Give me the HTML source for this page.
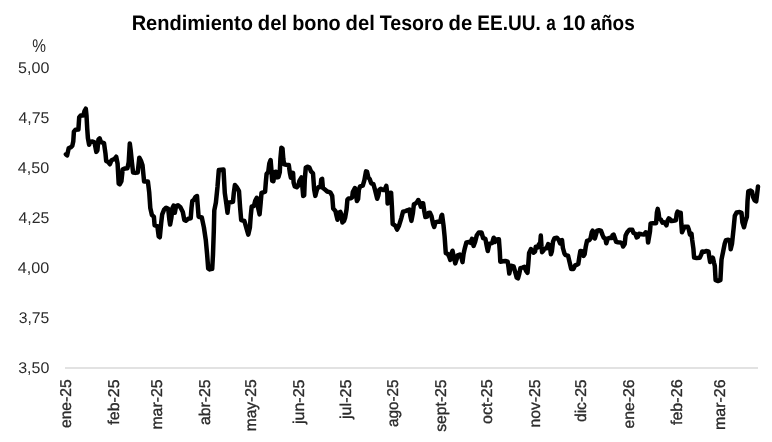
<!DOCTYPE html>
<html lang="es">
<head>
<meta charset="utf-8">
<title>Rendimiento del bono del Tesoro de EE.UU. a 10 años</title>
<style>
html,body{margin:0;padding:0;background:#fff;}
body{width:772px;height:442px;overflow:hidden;}
svg{display:block;text-rendering:geometricPrecision;will-change:transform;}
text{font-family:"Liberation Sans", sans-serif;fill:#2b2b2b;}
.t{font-weight:bold;font-size:21.0px;fill:#000;}
.y{font-size:15.5px;}
.x{font-size:15.6px;stroke:#2b2b2b;stroke-width:0.35px;}
</style>
</head>
<body>
<svg width="772" height="442" viewBox="0 0 772 442">
<rect x="0" y="0" width="772" height="442" fill="#ffffff"/>
<text class="t" y="29.5"><tspan x="131.66" textLength="121.31" lengthAdjust="spacingAndGlyphs">Rendimiento</tspan> <tspan x="257.84" textLength="29.22" lengthAdjust="spacingAndGlyphs">del</tspan> <tspan x="292.15" textLength="48.53" lengthAdjust="spacingAndGlyphs">bono</tspan> <tspan x="345.55" textLength="29.22" lengthAdjust="spacingAndGlyphs">del</tspan> <tspan x="379.79" textLength="63.91" lengthAdjust="spacingAndGlyphs">Tesoro</tspan> <tspan x="448.60" textLength="23.62" lengthAdjust="spacingAndGlyphs">de</tspan> <tspan x="477.34" textLength="63.50" lengthAdjust="spacingAndGlyphs">EE.UU.</tspan> <tspan x="546.26" textLength="9.56" lengthAdjust="spacingAndGlyphs">a</tspan> <tspan x="562.41" textLength="23.06" lengthAdjust="spacingAndGlyphs">10</tspan> <tspan x="590.43" textLength="44.35" lengthAdjust="spacingAndGlyphs">años</tspan></text>
<text class="y" style="font-size:18.4px" x="32.35" y="52" textLength="13.70" lengthAdjust="spacingAndGlyphs">%</text>
<text class="y" x="18.11" y="72.8" textLength="31.22" lengthAdjust="spacingAndGlyphs">5,00</text>
<text class="y" x="18.47" y="122.8" textLength="30.89" lengthAdjust="spacingAndGlyphs">4,75</text>
<text class="y" x="17.88" y="172.8" textLength="31.45" lengthAdjust="spacingAndGlyphs">4,50</text>
<text class="y" x="18.47" y="222.8" textLength="30.89" lengthAdjust="spacingAndGlyphs">4,25</text>
<text class="y" x="17.88" y="272.8" textLength="31.45" lengthAdjust="spacingAndGlyphs">4,00</text>
<text class="y" x="18.76" y="322.8" textLength="30.61" lengthAdjust="spacingAndGlyphs">3,75</text>
<text class="y" x="18.16" y="372.8" textLength="31.17" lengthAdjust="spacingAndGlyphs">3,50</text>
<line x1="65" y1="368" x2="758" y2="368" stroke="#d9d9d9" stroke-width="1.7"/>
<text class="x" transform="translate(71.4,427.31) rotate(-90)" x="-0.66" y="0" textLength="48.52" lengthAdjust="spacingAndGlyphs">ene-25</text>
<text class="x" transform="translate(119.2,424.43) rotate(-90)" x="-0.23" y="0" textLength="45.22" lengthAdjust="spacingAndGlyphs">feb-25</text>
<text class="x" transform="translate(162.4,428.53) rotate(-90)" x="-1.05" y="0" textLength="50.14" lengthAdjust="spacingAndGlyphs">mar-25</text>
<text class="x" transform="translate(210.2,424.35) rotate(-90)" x="-0.67" y="0" textLength="45.58" lengthAdjust="spacingAndGlyphs">abr-25</text>
<text class="x" transform="translate(256.4,430.31) rotate(-90)" x="-1.03" y="0" textLength="51.90" lengthAdjust="spacingAndGlyphs">may-25</text>
<text class="x" transform="translate(304.2,424.44) rotate(-90)" x="0.39" y="0" textLength="44.62" lengthAdjust="spacingAndGlyphs">jun-25</text>
<text class="x" transform="translate(350.5,419.35) rotate(-90)" x="0.39" y="0" textLength="39.53" lengthAdjust="spacingAndGlyphs">jul-25</text>
<text class="x" transform="translate(398.3,426.48) rotate(-90)" x="-0.65" y="0" textLength="47.68" lengthAdjust="spacingAndGlyphs">ago-25</text>
<text class="x" transform="translate(446.1,431.28) rotate(-90)" x="-0.44" y="0" textLength="52.27" lengthAdjust="spacingAndGlyphs">sept-25</text>
<text class="x" transform="translate(492.4,423.26) rotate(-90)" x="-0.67" y="0" textLength="44.50" lengthAdjust="spacingAndGlyphs">oct-25</text>
<text class="x" transform="translate(540.2,426.48) rotate(-90)" x="-1.04" y="0" textLength="48.09" lengthAdjust="spacingAndGlyphs">nov-25</text>
<text class="x" transform="translate(586.4,421.42) rotate(-90)" x="-0.66" y="0" textLength="42.63" lengthAdjust="spacingAndGlyphs">dic-25</text>
<text class="x" transform="translate(634.2,427.73) rotate(-90)" x="-0.67" y="0" textLength="48.99" lengthAdjust="spacingAndGlyphs">ene-26</text>
<text class="x" transform="translate(682.0,424.85) rotate(-90)" x="-0.23" y="0" textLength="45.68" lengthAdjust="spacingAndGlyphs">feb-26</text>
<text class="x" transform="translate(725.2,428.95) rotate(-90)" x="-1.06" y="0" textLength="50.61" lengthAdjust="spacingAndGlyphs">mar-26</text>
<polyline fill="none" stroke="#000" stroke-width="4.5" stroke-linejoin="round" stroke-linecap="round" points="65.9,154.3 67.1,155.4 68.7,148.3 70.8,147.2 72.3,145.9 73.3,141.2 73.9,131.7 75.5,129.8 78.4,129.5 79.2,117.4 80.6,115.5 83.3,115.5 84.5,111.1 85.8,108.7 86.5,115.4 87.2,128.5 87.9,138.0 89.1,144.7 90.4,142.0 92.5,141.5 94.5,142.4 96.3,151.9 97.4,150.4 98.5,139.3 99.6,138.3 101.0,142.1 104.0,143.1 105.5,153.8 106.2,161.0 108.3,162.1 109.9,164.3 111.5,160.2 114.6,158.9 116.2,156.7 117.6,163.8 118.7,183.6 119.8,184.3 121.4,181.2 122.7,169.3 125.0,168.5 127.4,168.2 128.7,162.2 129.8,143.5 130.6,149.5 131.9,162.2 133.1,172.5 135.3,172.9 137.7,172.5 138.5,165.3 139.3,157.7 140.9,160.6 142.5,165.3 143.6,176.4 144.1,181.5 147.9,181.4 149.2,192.2 150.3,208.0 151.9,215.1 153.9,216.7 154.6,225.4 157.4,226.2 158.7,236.5 159.8,237.3 161.1,223.8 162.2,214.3 164.1,209.6 166.1,207.7 168.2,208.8 169.3,219.1 170.1,224.6 171.4,217.5 172.5,208.0 173.6,205.6 174.8,212.8 176.1,206.1 178.0,205.2 180.4,207.2 182.8,212.0 184.3,219.9 185.9,220.7 188.3,218.8 190.7,218.3 191.5,208.0 192.3,200.9 193.8,200.1 195.4,196.9 197.0,196.1 197.8,206.4 198.6,216.7 201.8,217.5 203.9,227.4 205.8,240.1 207.1,254.3 208.2,268.6 209.8,269.4 212.2,268.9 213.0,254.3 213.8,230.6 214.3,210.4 215.9,202.5 217.5,186.7 218.8,170.1 223.5,169.6 224.1,180.3 224.8,193.0 226.4,204.1 227.5,212.8 228.6,202.5 230.6,202.2 233.0,201.7 233.8,193.0 234.9,185.1 237.0,187.5 239.0,191.1 240.1,207.3 241.2,220.1 244.4,221.0 246.2,227.4 248.3,234.6 249.9,227.4 250.8,215.2 251.7,206.5 253.9,206.0 255.2,200.9 256.8,197.8 258.0,207.3 259.6,214.4 260.7,202.5 261.5,193.0 263.9,192.2 265.1,191.7 265.8,182.5 266.6,173.8 268.2,172.2 269.3,163.5 270.6,160.0 271.4,169.8 272.2,180.9 273.4,181.2 274.6,172.2 276.1,171.7 277.2,177.4 278.5,177.0 279.8,172.2 280.4,158.8 281.4,147.7 282.5,148.5 283.3,158.8 284.1,164.3 286.4,164.8 288.8,165.1 289.9,173.0 290.9,177.8 291.8,172.7 293.1,173.0 293.6,182.5 294.8,186.5 296.7,187.3 298.3,185.7 299.4,180.9 301.5,177.4 302.3,185.7 303.2,196.0 304.2,195.2 304.8,179.3 305.8,167.5 307.8,166.7 309.4,167.5 311.0,171.4 313.0,173.3 314.2,189.6 315.3,195.9 316.9,189.6 318.5,187.2 320.5,186.7 321.3,179.3 322.1,178.8 322.9,188.0 324.8,189.3 327.2,191.5 330.3,192.4 332.2,195.9 333.2,208.6 335.4,211.0 336.7,216.5 337.5,219.7 338.3,213.0 340.3,211.9 341.4,214.6 342.4,222.5 344.0,220.9 345.1,217.8 346.6,209.1 347.4,199.6 348.6,198.5 350.9,198.3 352.2,197.2 352.8,192.0 354.9,188.0 356.0,194.3 356.9,201.0 358.1,199.1 358.9,189.6 360.1,186.4 362.8,185.6 364.4,180.1 366.0,171.4 367.1,171.9 368.4,177.7 369.6,178.8 371.2,183.3 373.4,184.1 375.1,190.1 377.2,198.8 378.3,195.6 379.4,189.8 380.7,188.8 383.1,190.1 384.6,189.8 386.3,185.8 387.3,194.0 387.6,203.5 388.7,201.9 389.5,193.2 391.1,192.7 391.9,206.7 392.7,224.1 395.1,225.4 397.1,229.6 399.0,225.7 401.4,217.8 403.0,211.7 405.3,211.1 407.7,210.2 409.3,209.5 410.4,216.2 411.4,220.9 412.9,213.0 413.9,204.3 415.6,203.5 417.2,201.9 418.3,200.0 419.6,202.7 420.9,206.7 422.0,203.5 423.1,203.2 424.3,211.4 425.4,217.0 427.2,216.5 428.3,213.0 429.9,212.7 431.5,216.2 433.1,224.1 434.2,226.9 435.4,222.5 437.8,221.7 440.2,221.7 441.4,215.9 442.1,214.9 443.5,225.3 444.6,236.4 445.8,253.1 447.7,253.8 449.3,257.0 450.3,259.9 451.4,253.8 452.5,250.7 453.8,257.0 455.3,263.4 456.6,259.4 457.7,255.4 459.8,254.6 461.4,257.3 462.5,262.1 463.6,253.8 464.8,248.3 466.4,242.4 468.8,242.0 470.4,242.8 472.0,238.8 473.6,245.9 475.1,242.0 476.7,235.6 478.8,232.5 481.5,232.5 483.1,238.0 485.4,238.8 486.7,245.9 487.8,251.0 489.4,243.6 492.1,243.1 493.7,237.7 494.9,242.0 496.5,239.6 498.9,239.3 499.8,251.4 500.3,261.7 503.0,261.2 505.3,260.9 507.7,261.7 508.5,267.3 509.3,273.6 510.9,265.7 513.6,266.5 515.2,272.0 516.7,277.6 518.0,278.4 519.3,273.6 520.4,268.1 522.4,267.6 524.3,266.9 526.2,271.2 527.5,272.8 528.3,264.1 529.1,253.0 531.0,249.1 532.3,250.6 533.5,252.7 535.1,251.4 535.8,246.7 537.8,247.5 538.9,244.3 540.2,243.2 540.8,235.6 541.5,246.7 542.1,252.2 543.4,250.6 544.6,248.6 546.5,248.3 548.2,244.1 549.8,245.6 550.9,254.3 551.9,251.2 553.0,241.7 554.5,238.2 556.9,237.7 558.8,240.1 560.1,243.3 560.9,240.4 562.0,240.1 562.9,248.0 564.5,253.6 565.6,255.1 568.0,255.6 569.6,262.3 571.2,268.9 573.5,268.9 575.1,265.4 577.2,264.6 578.3,263.9 579.4,256.7 580.4,250.9 582.0,251.2 583.5,255.9 584.6,254.3 585.8,246.4 587.0,240.9 589.4,240.1 590.5,238.5 591.8,232.2 592.7,230.6 593.7,236.1 594.9,238.5 596.2,233.8 597.1,230.6 599.0,230.2 600.9,230.6 602.5,234.9 603.8,237.8 605.3,238.6 606.3,243.3 607.7,238.6 609.8,237.8 611.7,238.1 612.5,235.4 613.6,234.6 614.8,238.1 616.1,241.7 618.0,242.2 620.4,242.5 622.0,243.3 623.1,246.5 624.7,244.1 625.6,235.4 627.2,232.2 629.4,229.8 632.3,229.8 633.5,233.0 635.4,233.8 636.7,237.4 637.8,237.0 638.9,233.8 641.8,234.3 644.1,234.6 645.7,232.2 647.3,233.0 648.1,242.5 650.0,231.4 650.6,223.5 653.0,223.2 656.1,223.2 656.9,212.4 657.7,208.9 658.5,212.4 659.3,218.8 660.9,219.6 662.5,222.7 664.0,222.2 665.2,223.5 666.4,225.4 667.7,220.3 668.8,218.4 670.4,219.6 671.5,221.1 673.5,220.7 675.9,220.3 676.7,214.0 677.5,211.6 679.1,212.7 680.7,212.7 681.3,223.5 682.0,232.2 683.5,229.1 684.6,226.7 687.8,226.7 688.9,229.8 689.9,234.6 691.5,233.8 692.1,239.3 693.4,248.8 694.1,257.6 696.5,258.0 699.8,257.7 701.4,254.1 702.2,251.4 704.5,251.7 706.1,250.9 708.5,251.4 709.3,257.2 710.1,262.0 711.7,260.4 712.9,257.7 714.0,262.8 714.8,265.9 715.6,280.2 718.0,281.0 720.4,280.2 721.5,259.6 723.1,251.7 724.7,243.8 725.9,240.3 728.3,239.8 729.9,240.6 730.7,249.3 732.0,243.8 733.0,234.2 733.6,228.6 734.8,215.9 736.7,212.4 739.6,212.0 741.5,212.8 742.4,222.3 744.0,227.3 745.6,220.7 746.9,216.7 747.5,201.7 748.3,191.4 750.4,190.6 752.0,191.4 753.0,196.9 754.6,200.4 756.2,201.4 757.0,195.3 758.0,186.6"/>
</svg>
</body>
</html>
